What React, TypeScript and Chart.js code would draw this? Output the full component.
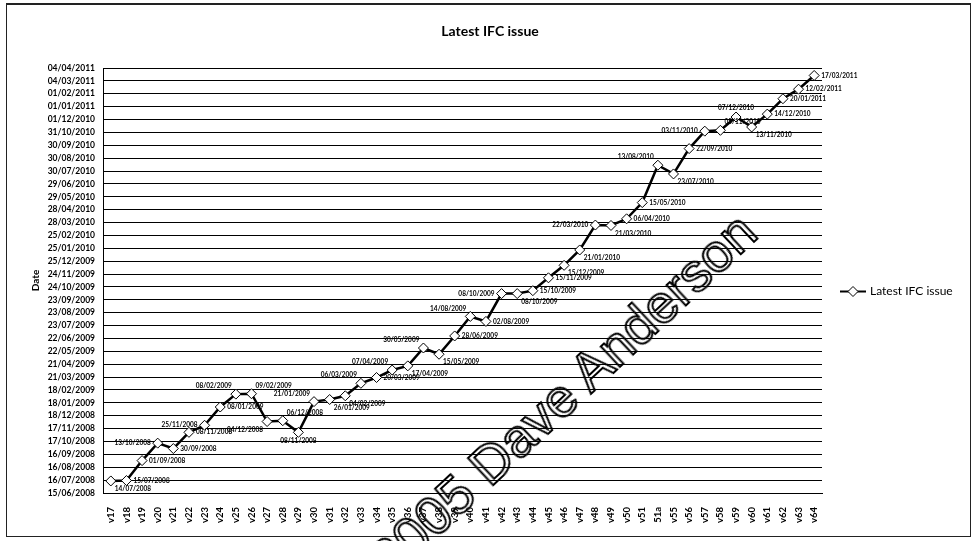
import React, { useEffect, useRef } from "react";
import { Chart, registerables } from "chart.js";

Chart.register(...registerables);

// ---- data ----
const versions = [
  "v17", "v18", "v19", "v20", "v21", "v22", "v23", "v24", "v25", "v26",
  "v27", "v28", "v29", "v30", "v31", "v32", "v33", "v34", "v35", "v36",
  "v37", "v38", "v39", "v40", "v41", "v42", "v43", "v44", "v45", "v46",
  "v47", "v48", "v49", "v50", "v51", "51a", "v55", "v56", "v57", "v58",
  "v59", "v60", "v61", "v62", "v63", "v64",
];

const issueDates = [
  "14/07/2008", "15/07/2008", "01/09/2008", "13/10/2008", "30/09/2008",
  "08/11/2008", "25/11/2008", "08/01/2009", "08/02/2009", "09/02/2009",
  "04/12/2008", "06/12/2008", "08/11/2008", "21/01/2009", "26/01/2009",
  "04/02/2009", "06/03/2009", "20/03/2009", "07/04/2009", "17/04/2009",
  "30/05/2009", "15/05/2009", "28/06/2009", "14/08/2009", "02/08/2009",
  "08/10/2009", "08/10/2009", "15/10/2009", "15/11/2009", "15/12/2009",
  "21/01/2010", "22/03/2010", "21/03/2010", "06/04/2010", "15/05/2010",
  "13/08/2010", "23/07/2010", "22/09/2010", "03/11/2010", "05/11/2010",
  "07/12/2010", "13/11/2010", "14/12/2010", "20/01/2011", "12/02/2011",
  "17/03/2011",
];

// where each point's date label sits relative to its marker
const labelSides = [
  "br", "r", "r", "l", "r", "r", "l", "r", "al", "ar",
  "bl", "ar", "b", "al", "br", "br", "al", "r", "al", "br",
  "al", "br", "r", "al", "r", "l", "br", "r", "r", "br",
  "br", "l", "br", "r", "r", "al", "br", "r", "l", "ar",
  "a", "br", "r", "r", "r", "r",
];

const yAxisStart = "15/06/2008";
const yAxisEnd = "04/04/2011";
const yAxisStepDays = 31;

const seriesName = "Latest IFC issue";
const chartTitle = "Latest IFC issue";
const yAxisTitle = "Date";
const watermark = "\u00A92005 Dave Anderson";

// ---- helpers ----
function toDay(s: string): number {
  const [d, m, y] = s.split("/").map(Number);
  return Date.UTC(y, m - 1, d) / 86400000;
}
function pad(n: number) {
  return n < 10 ? "0" + n : "" + n;
}
function fromDay(n: number): string {
  const dt = new Date(Math.round(n) * 86400000);
  return pad(dt.getUTCDate()) + "/" + pad(dt.getUTCMonth() + 1) + "/" + dt.getUTCFullYear();
}

const FONT = "Lato, 'Open Sans', sans-serif";

const dateLabelPlugin = {
  id: "dateLabels",
  afterDatasetsDraw(chart: any) {
    const meta = chart.getDatasetMeta(0);
    const ctx = chart.ctx;
    ctx.save();
    ctx.font = "bold 6.5px " + FONT;
    ctx.fillStyle = "#000";
    ctx.textBaseline = "middle";
    meta.data.forEach((pt: any, i: number) => {
      const txt = issueDates[i];
      const side = labelSides[i] || "r";
      let x = pt.x;
      let y = pt.y;
      let align: CanvasTextAlign = "left";
      switch (side) {
        case "r": x += 7; align = "left"; break;
        case "l": x -= 7; align = "right"; break;
        case "br": x += 4; y += 8; align = "left"; break;
        case "bl": x -= 4; y += 8; align = "right"; break;
        case "ar": x += 4; y -= 8; align = "left"; break;
        case "al": x -= 4; y -= 8; align = "right"; break;
        case "a": y -= 9; align = "center"; break;
        case "b": y += 9; align = "center"; break;
      }
      ctx.textAlign = align;
      ctx.fillText(txt, x, y);
    });
    ctx.restore();
  },
};

const decorPlugin = {
  id: "decor",
  beforeDraw(chart: any) {
    const ctx = chart.ctx;
    ctx.save();
    ctx.fillStyle = "#fff";
    ctx.fillRect(0, 0, chart.width, chart.height);
    ctx.restore();
  },
  afterDraw(chart: any) {
    const ctx = chart.ctx;
    const area = chart.chartArea;
    ctx.save();
    // outer frame
    ctx.strokeStyle = "#222";
    ctx.lineWidth = 1;
    ctx.strokeRect(6.5, 4.5, 964, 532);
    ctx.lineWidth = 2;
    ctx.beginPath();
    ctx.moveTo(6, 4);
    ctx.lineTo(971, 4);
    ctx.stroke();
    // title
    ctx.fillStyle = "#000";
    ctx.font = "bold 14px " + FONT;
    ctx.textAlign = "center";
    ctx.textBaseline = "middle";
    ctx.fillText(chartTitle, 490, 31);
    // legend
    const ly = (area.top + area.bottom) / 2 + 11;
    const lx = area.right + 18;
    ctx.strokeStyle = "#000";
    ctx.lineWidth = 2;
    ctx.beginPath();
    ctx.moveTo(lx, ly);
    ctx.lineTo(lx + 26, ly);
    ctx.stroke();
    const cx = lx + 13;
    ctx.beginPath();
    ctx.moveTo(cx, ly - 5);
    ctx.lineTo(cx + 5, ly);
    ctx.lineTo(cx, ly + 5);
    ctx.lineTo(cx - 5, ly);
    ctx.closePath();
    ctx.fillStyle = "#fff";
    ctx.fill();
    ctx.lineWidth = 1;
    ctx.stroke();
    ctx.fillStyle = "#000";
    ctx.font = "12px " + FONT;
    ctx.textAlign = "left";
    ctx.textBaseline = "middle";
    ctx.fillText(seriesName, lx + 30, ly);
    ctx.restore();
  },
};

export default function App() {
  const ref = useRef<HTMLCanvasElement | null>(null);

  useEffect(() => {
    if (!ref.current) return;
    Chart.defaults.font.family = FONT;
    const chart = new Chart(ref.current, {
      type: "line",
      data: {
        labels: versions,
        datasets: [
          {
            label: seriesName,
            data: issueDates.map(toDay),
            borderColor: "#000",
            borderWidth: 2.5,
            pointStyle: "rectRot",
            pointRadius: 5,
            pointBackgroundColor: "#fff",
            pointBorderColor: "#000",
            pointBorderWidth: 1,
            tension: 0,
          },
        ],
      },
      options: {
        animation: false,
        responsive: false,
        maintainAspectRatio: false,
        layout: { padding: { left: 30, right: 152, top: 68, bottom: 12 } },
        plugins: {
          legend: { display: false },
          tooltip: { enabled: false },
          title: { display: false },
        },
        scales: {
          x: {
            offset: true,
            grid: { display: false, drawTicks: false },
            border: { display: true, color: "#000", width: 1 },
            ticks: {
              autoSkip: false,
              maxRotation: 90,
              minRotation: 90,
              color: "#000",
              font: { size: 9.5, weight: "bold" },
              padding: 14,
            },
            afterFit: (s: any) => {
              s.height = 36;
            },
          },
          y: {
            min: toDay(yAxisStart),
            max: toDay(yAxisEnd),
            grid: { color: "#000", lineWidth: 1, drawTicks: false },
            border: { display: true, color: "#000", width: 1 },
            ticks: {
              stepSize: yAxisStepDays,
              autoSkip: false,
              color: "#000",
              font: { size: 8.5, weight: "bold" },
              padding: 8,
              callback: (v: any) => fromDay(Number(v)),
            },
            title: {
              display: true,
              text: yAxisTitle,
              color: "#000",
              font: { size: 10, weight: "bold" },
              padding: 0,
            },
            afterFit: (s: any) => {
              s.width = 73;
            },
          },
        },
      },
      plugins: [dateLabelPlugin, decorPlugin],
    } as any);
    return () => chart.destroy();
  }, []);

  return (
    <div
      style={{
        position: "fixed",
        left: 0,
        top: 0,
        width: 974,
        height: 541,
        overflow: "hidden",
        background: "#fff",
      }}
    >
      <canvas ref={ref} width={974} height={541} style={{ display: "block" }} />
      <div
        style={{
          position: "absolute",
          left: 548,
          top: 408,
          transform: "translate(-50%, -50%) rotate(-43deg)",
          whiteSpace: "nowrap",
          fontFamily: "'Liberation Sans', Arial, sans-serif",
          fontSize: 54,
          color: "transparent",
          WebkitTextStroke: "2px #000",
          pointerEvents: "none",
        }}
      >
        {watermark}
      </div>
    </div>
  );
}
